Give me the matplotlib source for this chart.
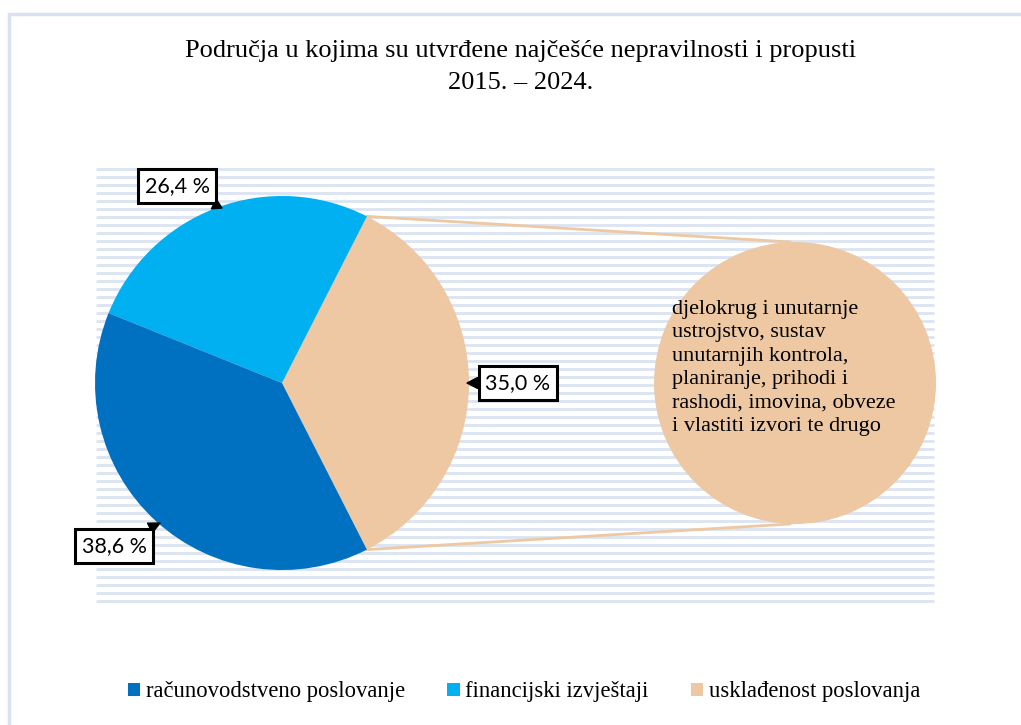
import numpy as np
import matplotlib
matplotlib.use("Agg")
import matplotlib.pyplot as plt
from matplotlib.patches import Rectangle, Patch

# data
categories = ["računovodstveno poslovanje", "financijski izvještaji", "usklađenost poslovanja"]
shares = [38.6, 26.4, 35.0]
labels = ["38,6 %", "26,4 %", "35,0 %"]
colors = ["#0070C0", "#00B0F0", "#EDC8A2"]
detail_text = ("djelokrug i unutarnje\nustrojstvo, sustav\nunutarnjih kontrola,\n"
               "planiranje, prihodi i\nrashodi, imovina, obveze\ni vlastiti izvori te drugo")
title = "Područja u kojima su utvrđene najčešće nepravilnosti i propusti\n2015. – 2024."

W, H = 1021, 725
fig = plt.figure(figsize=(W / 100, H / 100), dpi=100)
ax = fig.add_axes([0, 0, 1, 1])

serif = "Liberation Serif"

# outer frame
ax.add_patch(Rectangle((9, -20), W + 20, H - 14 + 20, fill=False, ec="#D9E1F2", lw=2.5))

# striped plot area
for y in np.arange(169, 602, 8):
    ax.plot([96, 934], [H - y, H - y], color="#DCE3F2", lw=2, solid_capstyle="butt", zorder=1)

# main pie: tan slice centred on the right
cx, cy, r = 282, H - 383, 187
order = [2, 1, 0]
start = -shares[2] / 100 * 180
wedges, _ = ax.pie([shares[i] for i in order], colors=[colors[i] for i in order],
                   startangle=start, center=(cx, cy), radius=r, frame=True,
                   wedgeprops=dict(linewidth=0))
for w in wedges:
    w.set_zorder(3)

# secondary circle
sx, sy, sr = 795, H - 383, 141
sec, _ = ax.pie([shares[2]], colors=[colors[2]], center=(sx, sy), radius=sr, frame=True,
                wedgeprops=dict(linewidth=0))
sec[0].set_zorder(3)
ax.set_xlim(0, W)
ax.set_ylim(0, H)
ax.set_aspect("equal")
ax.axis("off")

# connector lines
a = np.deg2rad(shares[2] / 100 * 180)
ax.plot([cx + r * np.cos(a), sx - 5], [cy + r * np.sin(a), sy + sr], color=colors[2], lw=2, zorder=2)
ax.plot([cx + r * np.cos(a), sx - 5], [cy - r * np.sin(a), sy - sr], color=colors[2], lw=2, zorder=2)

ax.text(672, H - 368, detail_text, ha="left", va="center", fontsize=16,
        family=serif, linespacing=1.32, zorder=4)

# data labels with callouts
box = dict(boxstyle="square,pad=0.32", fc="white", ec="black", lw=2.2)
label_pos = [(114, H - 546), (177, H - 186), (518, H - 383)]
anchor = [(160, H - 523), (222, H - 208), (467, H - 383)]
for lab, p, q in zip(labels, label_pos, anchor):
    ax.annotate(lab, xy=q, xytext=p, ha="center", va="center", fontsize=15.5,
                family="Lato", bbox=box, zorder=6,
                arrowprops=dict(arrowstyle="wedge,tail_width=0.5,shrink_factor=0.5",
                                fc="black", ec="black", lw=1, shrinkA=0, shrinkB=0))

fig.text(521 / W, 1 - 67 / H, title, ha="center", va="center", fontsize=19,
         family=serif, linespacing=1.6)

handles = [Patch(fc=c, ec="none") for c in colors]
fig.legend(handles, categories, loc="center", bbox_to_anchor=(524 / W, 1 - 692 / H), ncol=3,
           frameon=False, prop=dict(family=serif, size=16.3), handlelength=0.55, handleheight=0.55,
           handletextpad=0.25, columnspacing=1.85)

fig.savefig("out.png", dpi=100)
